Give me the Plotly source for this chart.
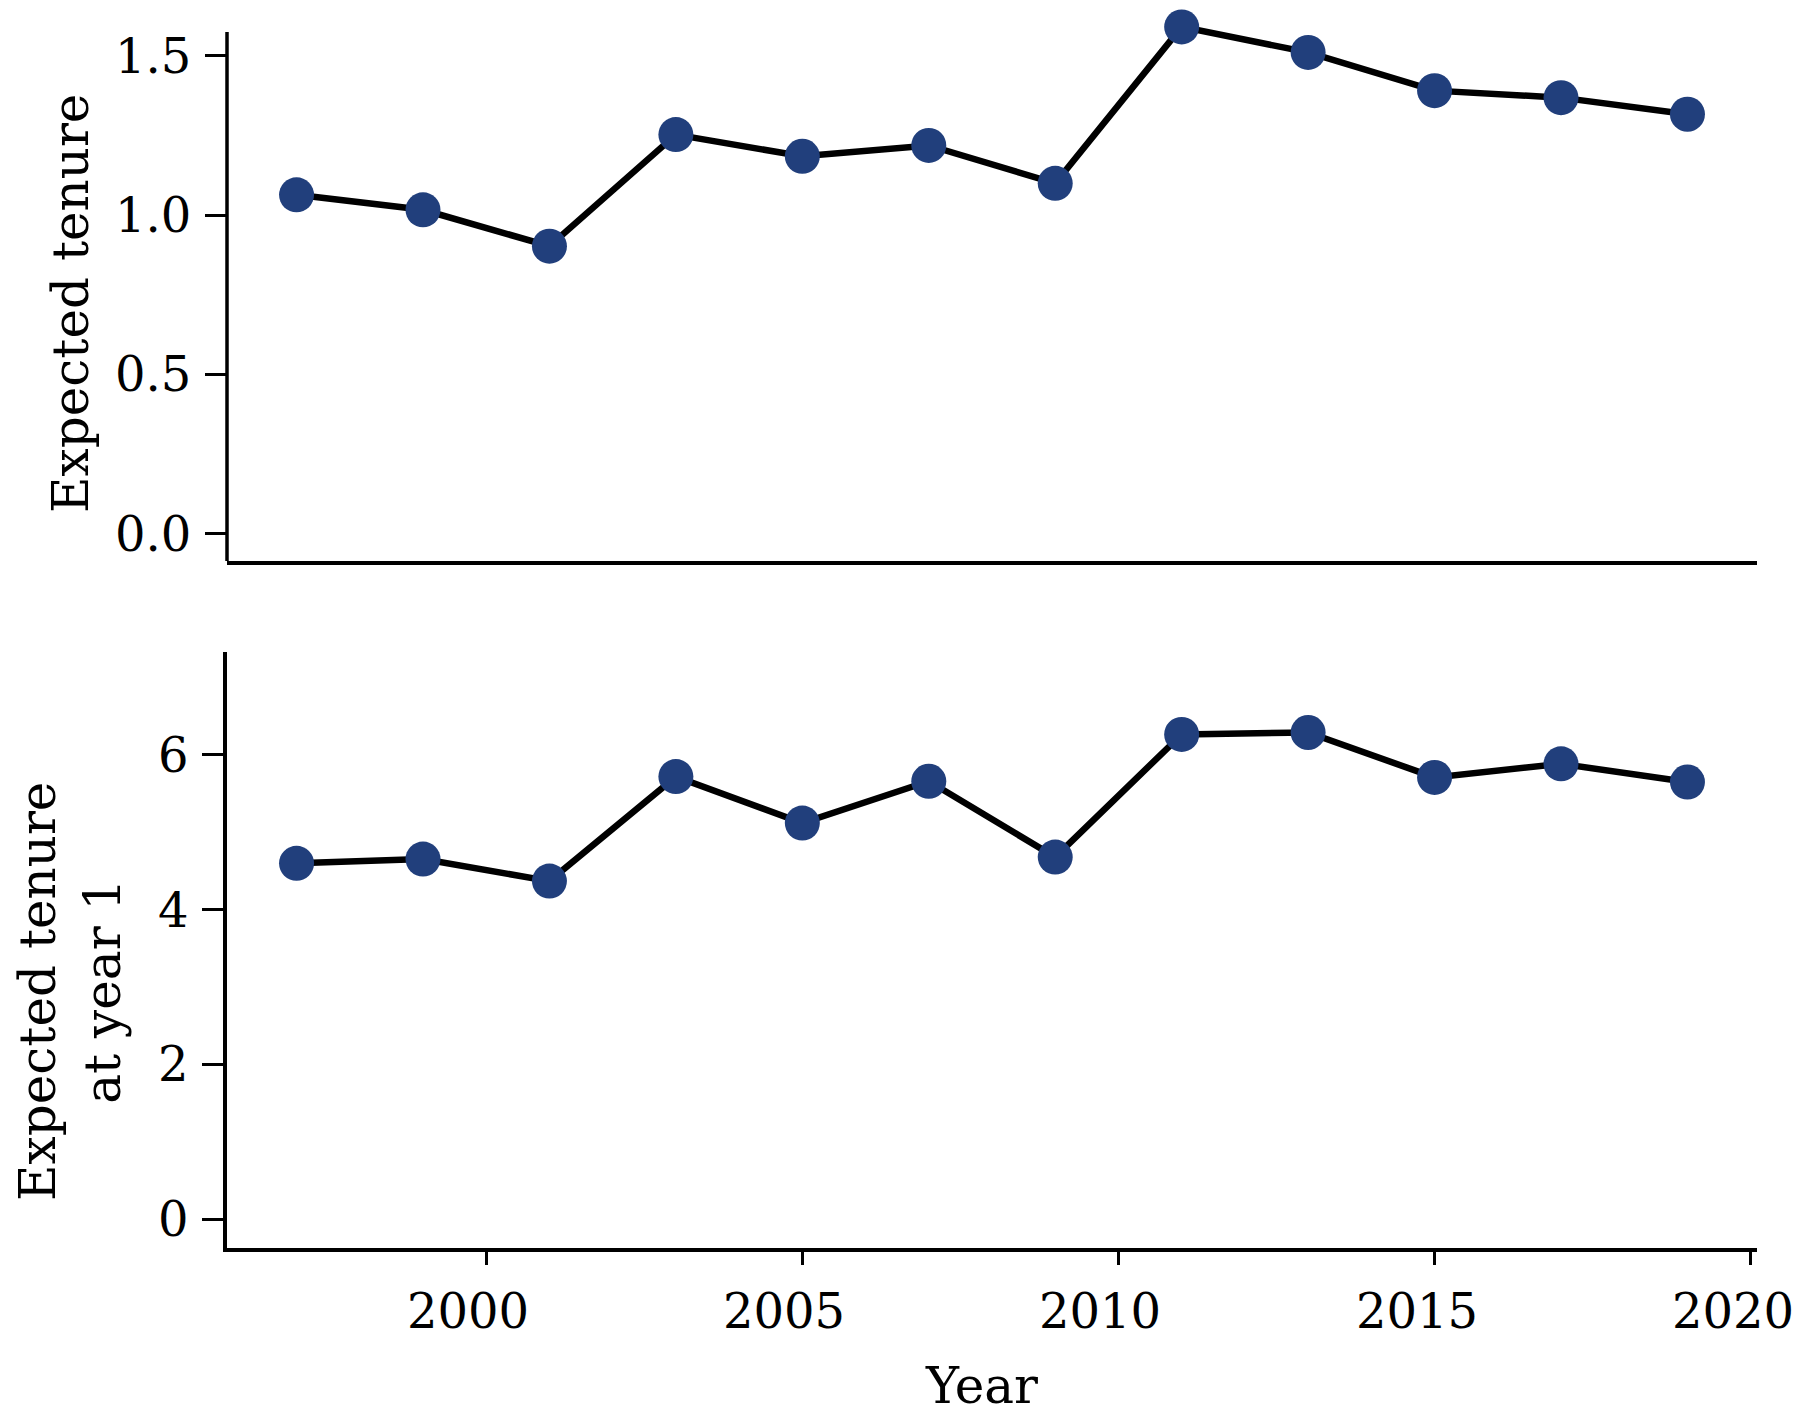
import plotly.graph_objects as go

years = [1997, 1999, 2001, 2003, 2005, 2007, 2009, 2011, 2013, 2015, 2017, 2019]
expected_tenure = [1.064, 1.017, 0.903, 1.253, 1.185, 1.219, 1.100, 1.591, 1.511, 1.391, 1.369, 1.317]
expected_tenure_year1 = [4.60, 4.655, 4.37, 5.72, 5.12, 5.66, 4.68, 6.265, 6.29, 5.71, 5.885, 5.65]

top_ticks = [0.0, 0.5, 1.0, 1.5]
bottom_ticks = [0, 2, 4, 6]
x_ticks = [2000, 2005, 2010, 2015, 2020]

W, H = 1800, 1412
OFF = 8  # page body margin
FONT = "DejaVu Serif"
NAVY = "#213f7c"

def px_x(a, b):
    return [(a - OFF) / W, (b - OFF) / W]

def px_y(top, bottom):
    return [1 - (bottom - OFF) / H, 1 - (top - OFF) / H]

# top panel: spine spans y in [-0.085, 1.575] from pixel 561 to 32; extend plot area upward
top_lo, top_hi = -0.085, 1.575
top_ppu = (561 - 32) / (top_hi - top_lo)
ext_px = 22
top_hi_ext = top_hi + ext_px / top_ppu

fig = go.Figure()
for yref_axis, vals in (("y", expected_tenure), ("y2", expected_tenure_year1)):
    fig.add_trace(go.Scatter(
        x=years, y=vals, mode="lines+markers",
        xaxis="x" if yref_axis == "y" else "x2", yaxis=yref_axis,
        line=dict(color="black", width=6.5),
        marker=dict(color=NAVY, size=35, line=dict(width=0)),
        cliponaxis=False, showlegend=False, hoverinfo="x+y",
    ))

axis_common = dict(linecolor="black", linewidth=3.5, showgrid=False,
                   zeroline=False, tickcolor="black", tickwidth=3,
                   tickfont=dict(family=FONT, size=48, color="black"))

xr = [1995.9, 2020.1]
fig.update_layout(
    width=W, height=H, margin=dict(l=0, r=0, t=0, b=0),
    paper_bgcolor="white", plot_bgcolor="white",
    font=dict(family=FONT, color="black"),
    xaxis=dict(domain=px_x(227, 1757), anchor="y", range=xr, showticklabels=False,
               ticks="", tickvals=x_ticks, showline=True, **axis_common),
    yaxis=dict(domain=px_y(32 - ext_px, 561), anchor="x", range=[top_lo, top_hi_ext],
               tickvals=top_ticks, ticktext=[f"{v:.1f}" for v in top_ticks],
               ticks="outside", ticklen=21, ticklabelstandoff=4, showline=False,
               **axis_common),
    xaxis2=dict(domain=px_x(227, 1757), anchor="y2", range=xr,
                tickvals=x_ticks, showticklabels=False,
                ticks="outside", ticklen=13, showline=True,
                **axis_common),
    yaxis2=dict(domain=px_y(652, 1248), anchor="x2", range=[-0.37, 7.33],
                tickvals=bottom_ticks, ticktext=[str(v) for v in bottom_ticks],
                ticks="outside", ticklen=21, ticklabelstandoff=4, showline=True,
                **axis_common),
)

# left spine of the top panel, trimmed to its original extent
fig.add_shape(type="line", xref="x domain", yref="y", x0=0, x1=0,
              y0=top_lo, y1=top_hi, line=dict(color="black", width=3.5), layer="below")

# x tick labels (slightly left of their ticks, as in the original)
for xv in x_ticks:
    fig.add_annotation(text=str(xv), x=xv, xref="x2", yref="paper",
                       y=1 - (1311 - OFF) / H, xshift=-18, showarrow=False,
                       font=dict(family=FONT, size=48, color="black"),
                       xanchor="center", yanchor="middle")

fig.add_annotation(text="Expected tenure", xref="paper", yref="paper",
                   x=(71 - OFF) / W, y=1 - (304 - OFF) / H, textangle=-90, showarrow=False,
                   font=dict(family=FONT, size=50, color="black"),
                   xanchor="center", yanchor="middle")
fig.add_annotation(text="Expected tenure<br>at year 1", xref="paper", yref="paper",
                   x=(70 - OFF) / W, y=1 - (992 - OFF) / H, textangle=-90, showarrow=False,
                   font=dict(family=FONT, size=50, color="black"),
                   xanchor="center", yanchor="middle", align="center")
fig.add_annotation(text="Year", xref="paper", yref="paper",
                   x=(981 - OFF) / W, y=1 - (1386 - OFF) / H, showarrow=False,
                   font=dict(family=FONT, size=50, color="black"),
                   xanchor="center", yanchor="middle")

fig.write_html("out.html")
